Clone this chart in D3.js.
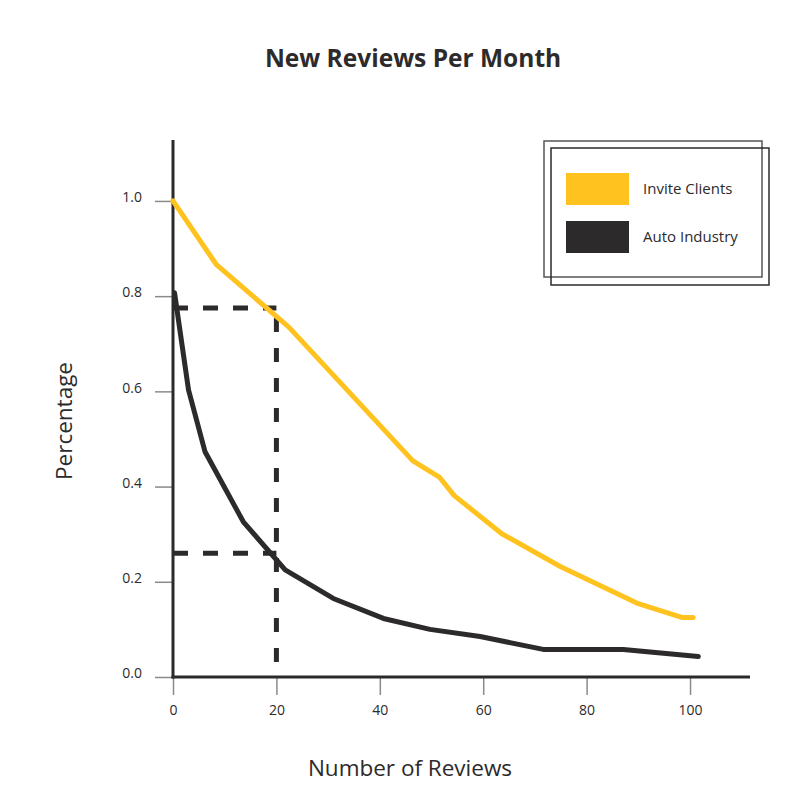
<!DOCTYPE html>
<html>
<head>
<meta charset="utf-8">
<script src="https://cdn.jsdelivr.net/npm/d3@7"></script>
<style>
  body { margin: 0; background: #fff; }
  svg text { font-family: "Open Sans", sans-serif; fill: #2d2a2b; }
</style>
</head>
<body>
<script>
// chart data
const seriesNames = ["Invite Clients", "Auto Industry"];
const seriesColors = ["#ffc21f", "#2d2a2b"];

const inviteX = [0, 8.4, 22.4, 46.4, 51.5, 54.4, 63.6, 74.9, 90, 98.4, 100.6];
const inviteY = [1.0, 0.866, 0.735, 0.454, 0.42, 0.381, 0.301, 0.232, 0.154, 0.125, 0.125];

const autoX = [0.3, 3.0, 6.2, 13.6, 21.7, 31, 40.7, 49.7, 59.4, 71.6, 87.1, 101.6];
const autoY = [0.807, 0.603, 0.473, 0.326, 0.225, 0.165, 0.123, 0.1, 0.085, 0.058, 0.058, 0.043];

// dashed guide: 20 reviews
const guideX = 20;
const guideTop = 0.775;
const guideLow = 0.26;

const xTicks = [0, 20, 40, 60, 80, 100];
const yTicks = [0, 0.2, 0.4, 0.6, 0.8, 1.0];

const width = 811, height = 811;

const svg = d3.select("body")
              .append("svg")
              .attr("width", width)
              .attr("height", height);

const x = d3.scaleLinear().domain([0, 111.6]).range([173, 750]);
const y = d3.scaleLinear().domain([0, 1.128]).range([677, 140]);

// title
svg.append("text")
   .attr("x", 413)
   .attr("y", 67)
   .attr("text-anchor", "middle")
   .attr("font-size", 24.5)
   .attr("font-weight", "bold")
   .text("New Reviews Per Month");

// axes
const xAxis = svg.append("g")
                 .attr("transform", `translate(0, ${y(0)})`)
                 .call(d3.axisBottom(x).tickValues(xTicks).tickSize(18).tickPadding(10));
const yAxis = svg.append("g")
                 .attr("transform", `translate(${x(0)}, 0)`)
                 .call(d3.axisLeft(y).tickValues(yTicks).tickSize(18).tickPadding(13).tickFormat(d3.format(".1f")));

[xAxis, yAxis].forEach(g => {
    g.select(".domain").remove();
    g.selectAll(".tick line").attr("stroke", "#8a8a8a").attr("stroke-width", 1.5);
    g.selectAll(".tick text")
     .attr("font-family", "'Open Sans', sans-serif")
     .attr("font-size", 14)
     .attr("fill", "#2d2a2b");
});
yAxis.selectAll(".tick text").attr("dy", "0.05em");

// axis lines
svg.append("line")
   .attr("x1", x(0)).attr("x2", x(0))
   .attr("y1", y.range()[1]).attr("y2", y(0) + 1.5)
   .attr("stroke", "#2d2a2b").attr("stroke-width", 3);
svg.append("line")
   .attr("x1", x(0) - 1.5).attr("x2", x.range()[1])
   .attr("y1", y(0)).attr("y2", y(0))
   .attr("stroke", "#2d2a2b").attr("stroke-width", 3);

// axis titles
svg.append("text")
   .attr("transform", `translate(72, 421) rotate(-90)`)
   .attr("text-anchor", "middle")
   .attr("font-size", 22.5)
   .text("Percentage");
svg.append("text")
   .attr("x", 410)
   .attr("y", 776)
   .attr("text-anchor", "middle")
   .attr("font-size", 22.5)
   .text("Number of Reviews");

// dashed guides
const dash = "15,15";
svg.append("line")
   .attr("x1", x(0)).attr("x2", x(guideX))
   .attr("y1", y(guideTop)).attr("y2", y(guideTop))
   .attr("stroke", "#2d2a2b").attr("stroke-width", 5).attr("stroke-dasharray", dash);
svg.append("line")
   .attr("x1", x(0)).attr("x2", x(guideX))
   .attr("y1", y(guideLow)).attr("y2", y(guideLow))
   .attr("stroke", "#2d2a2b").attr("stroke-width", 5).attr("stroke-dasharray", dash);
svg.append("line")
   .attr("x1", x(guideX)).attr("x2", x(guideX))
   .attr("y1", y(guideTop) + 10).attr("y2", y(0))
   .attr("stroke", "#2d2a2b").attr("stroke-width", 5).attr("stroke-dasharray", "14,16");

// lines
const line = d3.line().x(d => x(d[0])).y(d => y(d[1]));
const series = [
    d3.zip(inviteX, inviteY),
    d3.zip(autoX, autoY)
];
series.forEach((pts, i) => {
    svg.append("path")
       .datum(pts)
       .attr("d", line)
       .attr("fill", "none")
       .attr("stroke", seriesColors[i])
       .attr("stroke-width", 5)
       .attr("stroke-linejoin", "round")
       .attr("stroke-linecap", "round");
});

// legend
const legend = svg.append("g");
legend.append("rect")
      .attr("x", 544).attr("y", 141).attr("width", 218).attr("height", 136)
      .attr("fill", "none").attr("stroke", "#555").attr("stroke-width", 1.5);
legend.append("rect")
      .attr("x", 551).attr("y", 148).attr("width", 218).attr("height", 137)
      .attr("fill", "none").attr("stroke", "#2d2a2b").attr("stroke-width", 1.5);
seriesNames.forEach((name, i) => {
    legend.append("rect")
          .attr("x", 566).attr("y", 173 + i * 48)
          .attr("width", 63).attr("height", 32)
          .attr("fill", seriesColors[i]);
    legend.append("text")
          .attr("x", 643).attr("y", 189 + i * 48)
          .attr("dy", "0.35em")
          .attr("font-size", 15)
          .text(name);
});
</script>
</body>
</html>
